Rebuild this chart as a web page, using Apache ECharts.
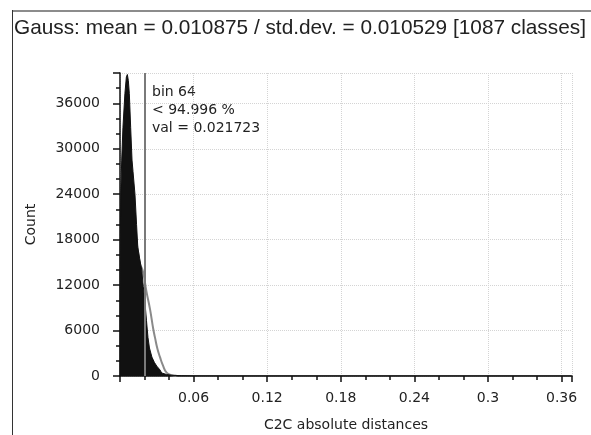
<!DOCTYPE html>
<html>
<head>
<meta charset="UTF-8">
<title>C2C histogram</title>
<script src="https://cdn.jsdelivr.net/npm/echarts@6/dist/echarts.min.js"></script>
<style>
  html, body { margin: 0; padding: 0; background: #fff; }
  #main { width: 591px; height: 435px; }
</style>
</head>
<body>
<div id="main"></div>
<script>
// histogram outline (distance, count)
var histX = [0, 0.0001, 0.0003, 0.0006, 0.0014, 0.0024, 0.004, 0.0052, 0.006, 0.0068, 0.0076, 0.0087, 0.0098, 0.0106, 0.0122, 0.0135, 0.0145, 0.016, 0.0177, 0.019, 0.0204, 0.0216, 0.0228, 0.024, 0.026, 0.028, 0.030, 0.0326, 0.034, 0.038, 0.042, 0.05, 0.06, 0.08, 0.368];
var histY = [0, 15000, 19000, 24000, 28500, 32800, 37300, 39500, 39800, 39000, 37300, 32800, 28500, 27000, 24000, 20000, 17000, 15500, 14000, 11800, 9600, 7300, 5100, 3700, 2500, 1800, 1300, 800, 400, 200, 100, 40, 15, 5, 0];

// gauss fit curve, visible part on the right of the bars
var gaussX = [0.012, 0.016, 0.0187, 0.0215, 0.0245, 0.027, 0.0285, 0.0305, 0.0326, 0.035, 0.038, 0.042, 0.046];
var gaussY = [20000, 15000, 13800, 11200, 8800, 6300, 5100, 3600, 2500, 1400, 450, 120, 20];

var binValue = 0.021723;
var infoLines = ['bin 64', '< 94.996 %', 'val = 0.021723'];
var titleText = 'Gauss: mean = 0.010875 / std.dev. = 0.010529 [1087 classes]';

function pairs(xs, ys) {
    return xs.map(function (x, i) { return [x, ys[i]]; });
}

var myChart = echarts.init(document.getElementById('main'));

var labelFont = { fontFamily: 'DejaVu Sans', fontSize: 14, color: '#222' };

var option = {
    animation: false,
    backgroundColor: '#fff',
    title: {
        text: titleText,
        left: 14,
        top: 18,
        padding: 0,
        textStyle: { fontFamily: 'Liberation Sans', fontSize: 20.8, fontWeight: 'normal', color: '#222' }
    },
    grid: { left: 120, top: 73, right: 19, bottom: 59, outerBoundsMode: 'none' },
    xAxis: {
        type: 'value',
        min: 0,
        max: 0.3685,
        interval: 0.06,
        name: 'C2C absolute distances',
        nameLocation: 'middle',
        nameGap: 42,
        nameTextStyle: labelFont,
        axisLine: { lineStyle: { color: '#111', width: 1.5 } },
        axisTick: { length: 6, lineStyle: { color: '#111', width: 1.5 } },
        minorTick: { show: true, splitNumber: 3, length: 4, lineStyle: { color: '#111', width: 1.5 } },
        axisLabel: {
            margin: 15, showMinLabel: false, showMaxLabel: false,
            fontFamily: 'DejaVu Sans', fontSize: 14, color: '#222'
        },
        splitLine: { show: true, lineStyle: { color: '#d4d4d4', type: 'dotted', width: 1 } }
    },
    yAxis: {
        type: 'value',
        min: 0,
        max: 40000,
        interval: 6000,
        name: 'Count',
        nameLocation: 'middle',
        nameRotate: 90,
        nameGap: 82,
        nameTextStyle: labelFont,
        axisLine: { show: true, lineStyle: { color: '#111', width: 1.5 } },
        axisTick: { show: true, length: 7, lineStyle: { color: '#111', width: 1.5 } },
        minorTick: { show: true, splitNumber: 3, length: 4, lineStyle: { color: '#111', width: 1.5 } },
        axisLabel: {
            margin: 20, showMaxLabel: false,
            formatter: function (v) { return String(v); },
            fontFamily: 'DejaVu Sans', fontSize: 14, color: '#222'
        },
        splitLine: { show: true, lineStyle: { color: '#d4d4d4', type: 'dotted', width: 1 } }
    },
    series: [
        {
            name: 'gauss',
            type: 'line',
            z: 2,
            smooth: true,
            symbol: 'none',
            data: pairs(gaussX, gaussY),
            lineStyle: { color: '#8a8a8a', width: 2 }
        },
        {
            name: 'histogram',
            type: 'line',
            z: 3,
            symbol: 'none',
            data: pairs(histX, histY),
            lineStyle: { color: '#111', width: 1 },
            areaStyle: { color: '#111', opacity: 1 },
            markLine: {
                silent: true,
                symbol: 'none',
                label: { show: false },
                lineStyle: { color: '#7a7a7a', width: 2, type: 'solid' },
                data: [{ xAxis: binValue }]
            }
        }
    ],
    graphic: [
        {
            type: 'line',
            shape: { x1: 12, y1: 11, x2: 591, y2: 11 },
            style: { stroke: '#8c8c8c', lineWidth: 2 }
        },
        {
            type: 'line',
            shape: { x1: 12.5, y1: 10, x2: 12.5, y2: 435 },
            style: { stroke: '#333', lineWidth: 1 }
        },
        {
            type: 'text',
            left: 152,
            top: 83,
            style: {
                text: infoLines.join('\n'),
                fontFamily: 'DejaVu Sans',
                fontSize: 14,
                lineHeight: 18,
                fill: '#222'
            }
        }
    ]
};

myChart.setOption(option);
</script>
</body>
</html>
